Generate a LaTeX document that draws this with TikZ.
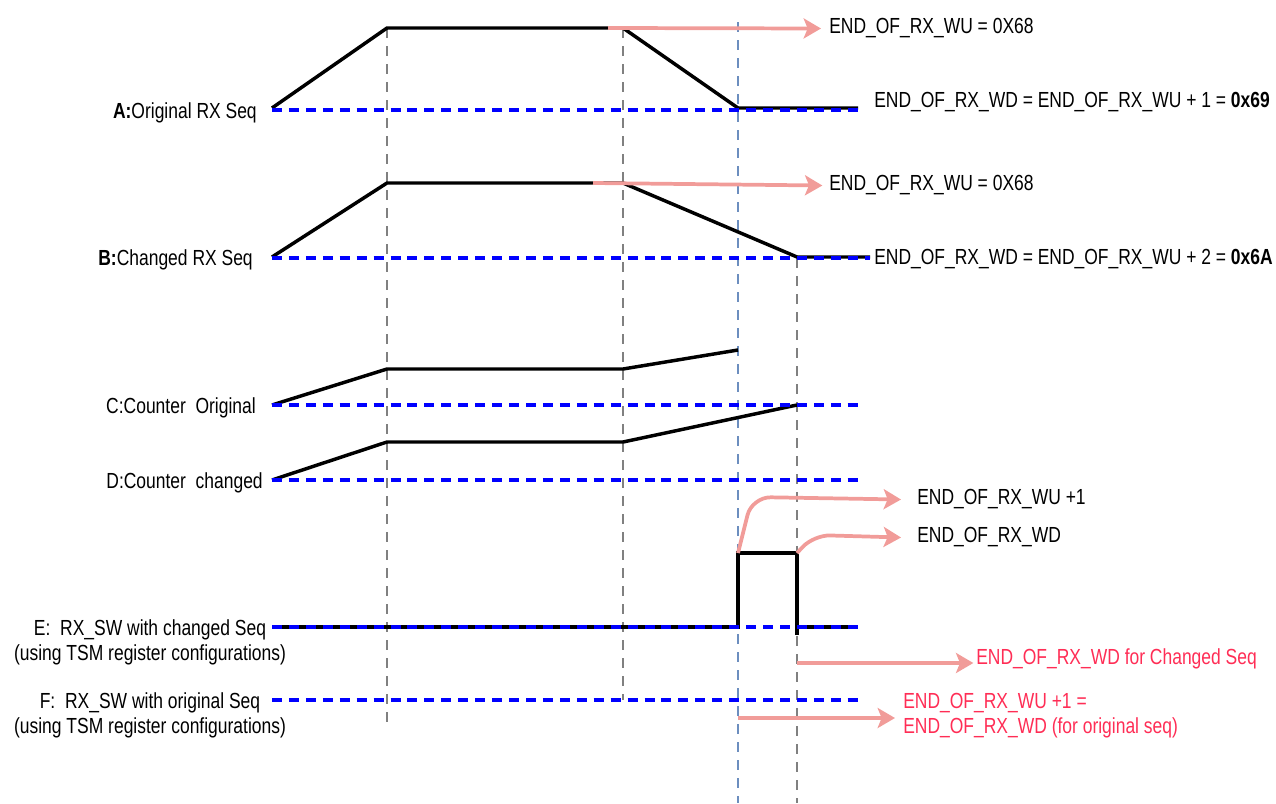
\documentclass[tikz,border=0pt]{standalone}
\usepackage{fontspec}
\setmainfont{Liberation Sans}
\usetikzlibrary{arrows.meta}
\definecolor{sigblue}{RGB}{0,0,255}
\definecolor{sigpink}{RGB}{241,156,153}
\definecolor{sigred}{RGB}{255,45,85}
\definecolor{markblue}{RGB}{108,142,191}
\begin{document}
\begin{tikzpicture}[x=0.75pt,y=-0.75pt,
	txt/.style={font=\fontsize{13.1}{15}\selectfont,inner sep=0pt,yscale=1.25,yshift=-1.5pt},
	wave/.style={line width=2.6pt,black},
	base/.style={line width=2.8pt,sigblue,dash pattern=on 7.5pt off 5.2pt},
	tick/.style={line width=1.8pt,gray,dash pattern=on 7.5pt off 6pt},
	note/.style={line width=2.8pt,sigpink,-{Stealth[length=13pt,width=15pt,inset=3pt]}}]
	\useasboundingbox (0,0) rectangle (1276,803);
	% time marks
	\draw[tick] (387,28)--(387,722);
	\draw[tick] (623,28)--(623,700);
	\draw[tick,markblue] (738,22)--(738,803);
	\draw[tick] (797,258)--(797,803);
	% signals
	\draw[wave] (272,108)--(387,28)--(623,28)--(738,108)--(858,108);
	\draw[wave] (272,257)--(387,183)--(623,183)--(797,257)--(870,257);
	\draw[wave] (272,405)--(387,369)--(623,369)--(738,350);
	\draw[wave] (272,480)--(387,442)--(623,442)--(797,405);
	\draw[wave] (272,627)-|(738,553)-|(797,635);
	\draw[wave] (797,627)--(857,627);
	% base lines
	\draw[base] (272,110)--(858,110);
	\draw[base] (272,258)--(870,258);
	\draw[base] (272,405)--(858,405);
	\draw[base] (272,480)--(858,480);
	\draw[base] (272,627)--(858,627);
	\draw[base] (272,700)--(858,700);
	% row labels
	\node[txt,anchor=east] (la) at (257,110) {\textbf{A:}Original RX Seq};
	\node[txt,anchor=east] (lb) at (253,257) {\textbf{B:}Changed RX Seq};
	\node[txt,anchor=east] (lc) at (256,405) {C:Counter\ \ Original};
	\node[txt,anchor=east] (ld) at (263,480) {D:Counter\ \ changed};
	\node[txt,align=center] (le) at (150,640) {E:\ \ RX\_SW with changed Seq\\(using TSM register configurations)};
	\node[txt,align=center] (lf) at (150,713) {F:\ \ RX\_SW with original Seq\\(using TSM register configurations)};
	% notes
	\node[txt,anchor=west] (wua) at (829,26) {END\_OF\_RX\_WU = 0X68};
	\node[txt,anchor=west] (wda) at (874,100) {END\_OF\_RX\_WD = END\_OF\_RX\_WU + 1 = \textbf{0x69}};
	\node[txt,anchor=west] (wub) at (829,183) {END\_OF\_RX\_WU = 0X68};
	\node[txt,anchor=west] (wdb) at (874,257) {END\_OF\_RX\_WD = END\_OF\_RX\_WU + 2 = \textbf{0x6A}};
	\node[txt,anchor=west] (wup) at (917,497) {END\_OF\_RX\_WU +1};
	\node[txt,anchor=west] (wdp) at (917,535) {END\_OF\_RX\_WD};
	\node[txt,anchor=west,sigred] (wdc) at (976,656) {END\_OF\_RX\_WD for Changed Seq};
	\node[txt,anchor=west,align=left,sigred] (wdo) at (903,713) {END\_OF\_RX\_WU +1 =\\END\_OF\_RX\_WD (for original seq)};
	\draw[note] (608,28)--([xshift=-6pt]wua.west);
	\draw[note] (593,183)--([xshift=-5pt]wub.west);
	\draw[note,rounded corners=14pt] (738,553)--(752,497)--([xshift=-12pt]wup.west);
	\draw[note,rounded corners=12pt] (797,553)--(814,535)--([xshift=-12pt]wdp.west);
	\draw[note] (797,663)--([xshift=-2pt]wdc.west|-0,663);
	\draw[note] (738,718)--([xshift=-6pt]wdo.west|-0,718);
\end{tikzpicture}
\end{document}
